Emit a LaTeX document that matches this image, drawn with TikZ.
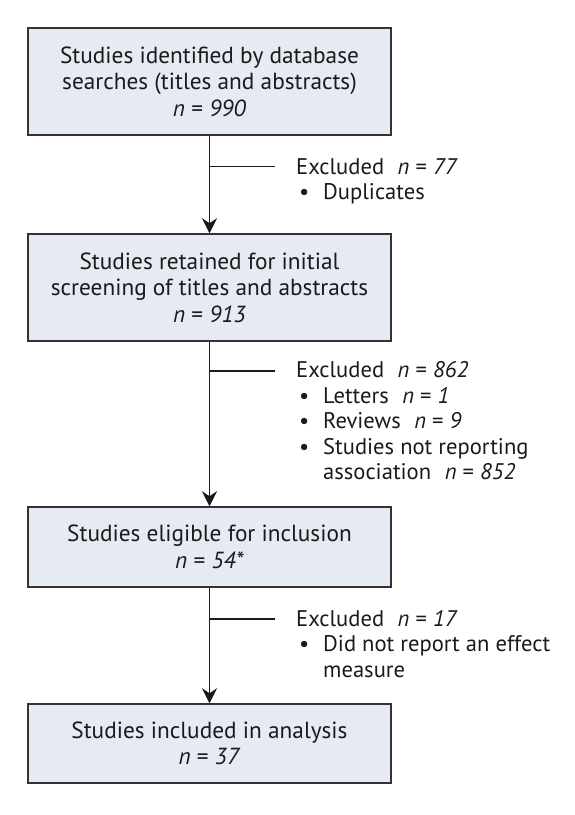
\documentclass[tikz,border=0pt]{standalone}
\usepackage{fontspec}
\setmainfont{PT Sans}
\usetikzlibrary{arrows.meta}
\definecolor{boxfill}{HTML}{E6EAF3}
\definecolor{boxline}{HTML}{333333}
\definecolor{ink}{HTML}{1A1A1A}
\tikzset{
  flowbox/.style={draw=boxline, fill=boxfill, line width=1.5pt, minimum width=363pt, inner sep=0pt, align=center, text=ink, font=\fontsize{23.3}{26.5}\selectfont},
  exclnote/.style={anchor=base west, inner sep=0pt, align=left, text=ink, font=\fontsize{22.6}{25.4}\selectfont},
  flowarrow/.style={draw=ink, line width=1.8pt, -{Stealth[length=15pt, width=15pt, inset=5pt]}},
  branch/.style={draw=ink, line width=1.2pt}
}
\newcommand{\bul}{\makebox[27pt][l]{\hspace{3pt}\textbullet}}
\newcommand{\bulsp}{\hspace*{27pt}}
\newcommand{\gp}{\hspace{0.6em}}
\begin{document}
\begin{tikzpicture}[x=1pt,y=1pt]
\useasboundingbox (0,0) rectangle (575,-815);
\node[flowbox, minimum height=107pt] (b1) at (209.5,-81.5) {Studies identified by database\\searches (titles and abstracts)\\\textit{n} = \textit{990}};
\node[flowbox, minimum height=107pt] (b2) at (209.5,-287.5) {Studies retained for initial\\screening of titles and abstracts\\\textit{n} = \textit{913}};
\node[flowbox, minimum height=80pt] (b3) at (209.5,-547) {Studies eligible for inclusion\\\textit{n} = \textit{54*}};
\node[flowbox, minimum height=79pt] (b4) at (209.5,-743.5) {Studies included in analysis\\\textit{n} = \textit{37}};
\draw[flowarrow] (b1) -- (b2);
\draw[flowarrow] (b2) -- (b3);
\draw[flowarrow] (b3) -- (b4);
\coordinate (t1) at (275,-166.7);
\coordinate (t2) at (275,-371);
\coordinate (t3) at (275,-619);
\draw[branch] (t1 -| b1.south) -- (t1);
\draw[branch] (t2 -| b2.south) -- (t2);
\draw[branch] (t3 -| b3.south) -- (t3);
\node[exclnote] (e1) at (296,-199.5) {Excluded\gp\textit{n} = \textit{77}\\\bul Duplicates};
\node[exclnote] (e2) at (296,-479.5) {Excluded\gp\textit{n} = \textit{862}\\\bul Letters\gp\textit{n} = \textit{1}\\\bul Reviews\gp\textit{n} = \textit{9}\\\bul Studies not reporting\\\bulsp association\gp\textit{n} = \textit{852}};
\node[exclnote] (e3) at (296,-677) {Excluded\gp\textit{n} = \textit{17}\\\bul Did not report an effect\\\bulsp measure};
\end{tikzpicture}
\end{document}
